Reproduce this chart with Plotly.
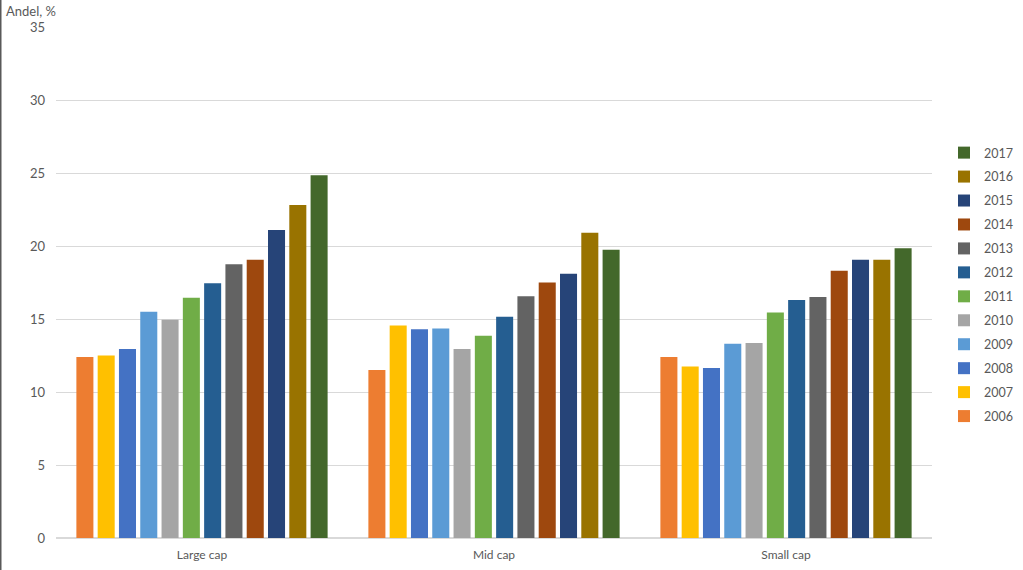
import plotly.graph_objects as go

categories = ["Large cap", "Mid cap", "Small cap"]
years = ["2006", "2007", "2008", "2009", "2010", "2011", "2012", "2013", "2014", "2015", "2016", "2017"]
large_cap = [12.4, 12.5, 12.95, 15.5, 14.95, 16.45, 17.45, 18.75, 19.05, 21.1, 22.8, 24.85]
mid_cap = [11.5, 14.55, 14.3, 14.35, 12.95, 13.85, 15.15, 16.55, 17.5, 18.1, 20.9, 19.75]
small_cap = [12.4, 11.75, 11.65, 13.3, 13.35, 15.45, 16.3, 16.5, 18.3, 19.05, 19.05, 19.85]
colors = ["#ED7D31", "#FFC000", "#4472C4", "#5B9BD5", "#A5A5A5", "#70AD47",
          "#255E91", "#636363", "#9E480E", "#264478", "#997300", "#43682B"]
y_ticks = [0, 5, 10, 15, 20, 25, 30, 35]

fig = go.Figure()
for i, yr in enumerate(years):
    fig.add_trace(go.Bar(
        x=categories,
        y=[large_cap[i], mid_cap[i], small_cap[i]],
        name=yr,
        legendgroup=yr,
        legendrank=1000 - i,
        marker=dict(color=colors[i], line=dict(width=0)),
    ))

font_family = "Lato, 'Open Sans', sans-serif"
fig.update_layout(
    width=1023, height=570,
    margin=dict(l=56, r=91, t=27, b=32, autoexpand=False),
    paper_bgcolor="white", plot_bgcolor="white",
    barmode="group", bargap=0.125, bargroupgap=0.2,
    font=dict(family=font_family, size=13, color="#595959"),
    showlegend=True,
    legend=dict(xref="container", yref="container", x=944/1023, xanchor="left",
                y=1 - 138/570, yanchor="top", maxheight=520,
                traceorder="grouped", tracegroupgap=4.7,
                font=dict(size=12.5, color="#595959"),
                bgcolor="rgba(0,0,0,0)", itemwidth=30),
    xaxis=dict(showgrid=False, showline=False, ticks="", ticklabelstandoff=8,
               tickfont=dict(size=12, color="#595959")),
    yaxis=dict(range=[0, 35], tickvals=y_ticks, showgrid=True, gridcolor="#D9D9D9",
               gridwidth=1, zeroline=True, zerolinecolor="#D9D9D9", showline=False,
               ticks="", ticklen=0, ticklabelstandoff=10,
               tickfont=dict(size=13, color="#595959")),
    annotations=[dict(text="Andel, %", xref="paper", yref="paper", x=-52/876, y=(538 - 11)/511,
                      xanchor="left", yanchor="middle", showarrow=False,
                      font=dict(size=13, color="#595959"))],
    shapes=[dict(type="line", xref="paper", yref="paper", x0=-55.5/876, x1=-55.5/876,
                 y0=-32/511, y1=1 + 27/511, line=dict(color="#595959", width=2))],
)

fig.write_html("out.html")
